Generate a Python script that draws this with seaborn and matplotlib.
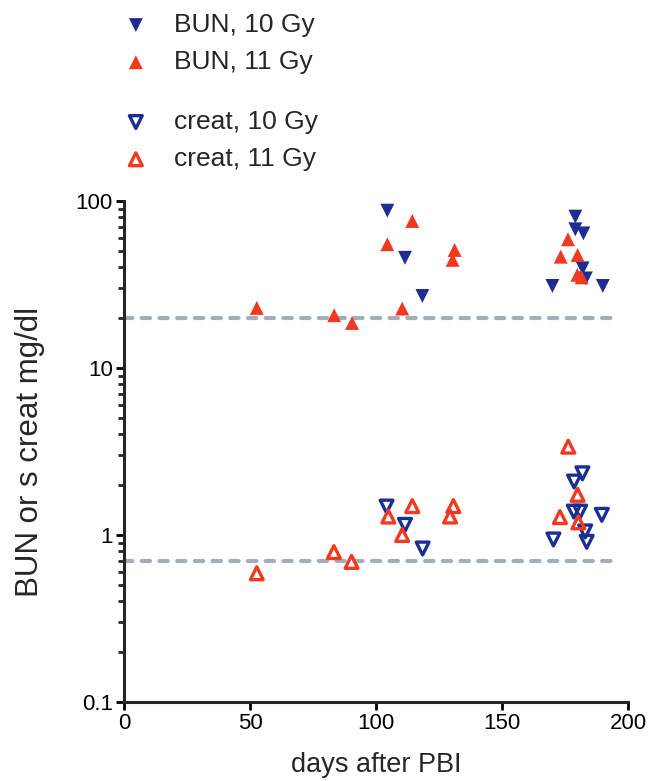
import numpy as np
import pandas as pd
import matplotlib
matplotlib.use("Agg")
import matplotlib.pyplot as plt
import matplotlib.ticker as mticker
import seaborn as sns

# values (days after PBI, mg/dl)
bun10_day = [104.5, 111.5, 118.4, 179.1, 179.1, 182.3, 182.0, 183.3, 170.0, 190.0]
bun10_val = [87.5, 45.7, 27.0, 80.6, 67.7, 64.0, 39.5, 34.4, 31.0, 31.0]

bun11_day = [52.7, 83.4, 90.5, 114.4, 104.5, 110.4, 131.2, 130.4,
             176.2, 173.3, 180.0, 179.9, 181.6]
bun11_val = [22.9, 20.7, 18.6, 75.9, 55.1, 22.7, 50.9, 44.4,
             59.0, 46.4, 47.5, 36.1, 34.9]

creat10_day = [104.2, 111.5, 118.5, 181.9, 178.6, 178.5, 181.0, 189.6, 170.4, 183.0, 183.6]
creat10_val = [1.48, 1.15, 0.83, 2.34, 2.09, 1.38, 1.38, 1.32, 0.94, 1.05, 0.91]

creat11_day = [52.7, 83.3, 90.3, 104.9, 114.4, 110.4, 130.7, 129.4,
               176.3, 180.0, 173.0, 180.3]
creat11_val = [0.59, 0.79, 0.69, 1.29, 1.49, 1.0, 1.49, 1.29,
               3.38, 1.74, 1.28, 1.19]

ref_levels = [20, 0.7]     # upper normal limits
ref_span = [0, 194]

BLUE = "#1c2e93"
RED = "#f1391f"
GREY = "#a4aeb8"

sns.set_style("ticks")
plt.rcParams["font.family"] = ["Liberation Sans", "DejaVu Sans"]

fig = plt.figure(figsize=(6.48, 7.81), dpi=100)
ax = fig.add_axes([124 / 648, 1 - 702 / 781, 504 / 648, 501 / 781])

ax.hlines(ref_levels, ref_span[0], ref_span[1], colors=GREY, lw=3,
          linestyles=(0, (2, 2.25)), capstyle="round", zorder=1)

sns.scatterplot(x=bun10_day, y=bun10_val, marker="v", s=100, color=BLUE,
                edgecolor="none", label="BUN, 10 Gy", ax=ax, zorder=3)
sns.scatterplot(x=bun11_day, y=bun11_val, marker="^", s=100, color=RED,
                edgecolor="none", label="BUN, 11 Gy", ax=ax, zorder=3)
sns.scatterplot(x=creat10_day, y=creat10_val, marker="v", s=85, facecolor="none",
                edgecolor=BLUE, linewidth=2.4, label="creat, 10 Gy", ax=ax, zorder=3)
sns.scatterplot(x=creat11_day, y=creat11_val, marker="^", s=85, facecolor="none",
                edgecolor=RED, linewidth=2.4, label="creat, 11 Gy", ax=ax, zorder=3)

ax.set_yscale("log")
ax.set_xlim(0, 200)
ax.set_ylim(0.1, 100)
ax.set_xticks([0, 50, 100, 150, 200])
ax.set_yticks([0.1, 1, 10, 100])
ax.yaxis.set_major_formatter(mticker.FixedFormatter(["0.1", "1", "10", "100"]))
ax.yaxis.set_minor_locator(mticker.LogLocator(base=10, subs=np.arange(2, 10)))
ax.yaxis.set_minor_formatter(mticker.NullFormatter())

sns.despine(ax=ax)
for s in ["left", "bottom"]:
    ax.spines[s].set_linewidth(2.2)
ax.tick_params(which="major", length=6, width=2, labelsize=16, colors="black", pad=2)
ax.tick_params(which="minor", length=4, width=2)

ax.set_xlabel("days after PBI", fontsize=19.5, labelpad=13)
ax.set_ylabel("BUN or s creat mg/dl", fontsize=22.5, labelpad=22)

handles, labels = ax.get_legend_handles_labels()
ax.legend_.remove()
leg_kw = dict(frameon=False, fontsize=19, handletextpad=0.85, labelspacing=0.5,
              borderaxespad=0, borderpad=0, handlelength=1.2, markerscale=1.0)
fig.legend(handles[:2], labels[:2], loc="upper left",
           bbox_to_anchor=(120 / 648, 1 - 13 / 781), **leg_kw)
fig.legend(handles[2:], labels[2:], loc="upper left",
           bbox_to_anchor=(120 / 648, 1 - 110 / 781), **leg_kw)

fig.savefig("out.png", dpi=100)
